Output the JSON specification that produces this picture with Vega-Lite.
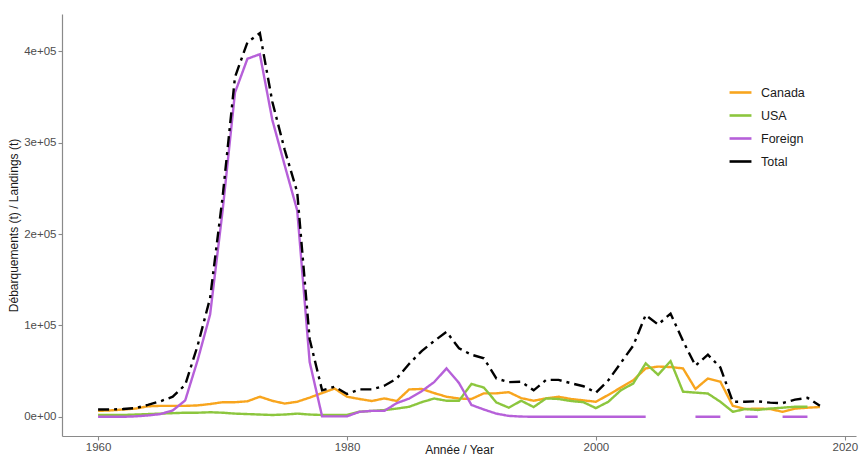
{
  "$schema": "https://vega.github.io/schema/vega-lite/v6.json",
  "width": 794,
  "height": 422,
  "autosize": {"type": "none"},
  "padding": {"left": 62, "top": 14, "right": 4, "bottom": 21},
  "background": "white",
  "config": {
    "view": {"stroke": null},
    "font": "Liberation Sans",
    "axis": {"grid": false, "domainColor": "#8a8a8a", "domainWidth": 1.2, "tickColor": "#8a8a8a", "tickSize": 4, "tickWidth": 1.1, "labelColor": "#4d4d4d", "labelFontSize": 11.5, "titleFontSize": 12, "titleFontWeight": "normal", "titleColor": "#1a1a1a", "labelFont": "Liberation Sans", "titleFont": "Liberation Sans"}
  },
  "data": {"values": [
    {"year":1960,"series":"Canada","value":6500},{"year":1961,"series":"Canada","value":7000},{"year":1962,"series":"Canada","value":8000},{"year":1963,"series":"Canada","value":9000},{"year":1964,"series":"Canada","value":11500},{"year":1965,"series":"Canada","value":12000},{"year":1966,"series":"Canada","value":12000},{"year":1967,"series":"Canada","value":12000},{"year":1968,"series":"Canada","value":12500},{"year":1969,"series":"Canada","value":14000},{"year":1970,"series":"Canada","value":16000},{"year":1971,"series":"Canada","value":16000},{"year":1972,"series":"Canada","value":17000},{"year":1973,"series":"Canada","value":22000},{"year":1974,"series":"Canada","value":17500},{"year":1975,"series":"Canada","value":14500},{"year":1976,"series":"Canada","value":16500},{"year":1977,"series":"Canada","value":21000},{"year":1978,"series":"Canada","value":26000},{"year":1979,"series":"Canada","value":31000},{"year":1980,"series":"Canada","value":22000},{"year":1981,"series":"Canada","value":19500},{"year":1982,"series":"Canada","value":17300},{"year":1983,"series":"Canada","value":20200},{"year":1984,"series":"Canada","value":17300},{"year":1985,"series":"Canada","value":30000},{"year":1986,"series":"Canada","value":30500},{"year":1987,"series":"Canada","value":26000},{"year":1988,"series":"Canada","value":22000},{"year":1989,"series":"Canada","value":20000},{"year":1990,"series":"Canada","value":19500},{"year":1991,"series":"Canada","value":25700},{"year":1992,"series":"Canada","value":25700},{"year":1993,"series":"Canada","value":27000},{"year":1994,"series":"Canada","value":20500},{"year":1995,"series":"Canada","value":17600},{"year":1996,"series":"Canada","value":20200},{"year":1997,"series":"Canada","value":22000},{"year":1998,"series":"Canada","value":19500},{"year":1999,"series":"Canada","value":18000},{"year":2000,"series":"Canada","value":16500},{"year":2001,"series":"Canada","value":24000},{"year":2002,"series":"Canada","value":32000},{"year":2003,"series":"Canada","value":40000},{"year":2004,"series":"Canada","value":53000},{"year":2005,"series":"Canada","value":55000},{"year":2006,"series":"Canada","value":54500},{"year":2007,"series":"Canada","value":53000},{"year":2008,"series":"Canada","value":30500},{"year":2009,"series":"Canada","value":42000},{"year":2010,"series":"Canada","value":38500},{"year":2011,"series":"Canada","value":12000},{"year":2012,"series":"Canada","value":8500},{"year":2013,"series":"Canada","value":9000},{"year":2014,"series":"Canada","value":8500},{"year":2015,"series":"Canada","value":5500},{"year":2016,"series":"Canada","value":9000},{"year":2017,"series":"Canada","value":10000},{"year":2018,"series":"Canada","value":10700},
    {"year":1960,"series":"USA","value":2000},{"year":1961,"series":"USA","value":2000},{"year":1962,"series":"USA","value":2000},{"year":1963,"series":"USA","value":2500},{"year":1964,"series":"USA","value":3000},{"year":1965,"series":"USA","value":3500},{"year":1966,"series":"USA","value":4000},{"year":1967,"series":"USA","value":4500},{"year":1968,"series":"USA","value":4500},{"year":1969,"series":"USA","value":5000},{"year":1970,"series":"USA","value":4500},{"year":1971,"series":"USA","value":3500},{"year":1972,"series":"USA","value":3000},{"year":1973,"series":"USA","value":2500},{"year":1974,"series":"USA","value":2000},{"year":1975,"series":"USA","value":2500},{"year":1976,"series":"USA","value":3500},{"year":1977,"series":"USA","value":2500},{"year":1978,"series":"USA","value":2000},{"year":1979,"series":"USA","value":2000},{"year":1980,"series":"USA","value":2000},{"year":1981,"series":"USA","value":5500},{"year":1982,"series":"USA","value":6500},{"year":1983,"series":"USA","value":7400},{"year":1984,"series":"USA","value":9000},{"year":1985,"series":"USA","value":11000},{"year":1986,"series":"USA","value":16000},{"year":1987,"series":"USA","value":20000},{"year":1988,"series":"USA","value":17600},{"year":1989,"series":"USA","value":17600},{"year":1990,"series":"USA","value":36000},{"year":1991,"series":"USA","value":32000},{"year":1992,"series":"USA","value":15800},{"year":1993,"series":"USA","value":10000},{"year":1994,"series":"USA","value":17600},{"year":1995,"series":"USA","value":10700},{"year":1996,"series":"USA","value":20200},{"year":1997,"series":"USA","value":19500},{"year":1998,"series":"USA","value":17300},{"year":1999,"series":"USA","value":16000},{"year":2000,"series":"USA","value":9500},{"year":2001,"series":"USA","value":16500},{"year":2002,"series":"USA","value":29000},{"year":2003,"series":"USA","value":36500},{"year":2004,"series":"USA","value":58500},{"year":2005,"series":"USA","value":46000},{"year":2006,"series":"USA","value":61000},{"year":2007,"series":"USA","value":27500},{"year":2008,"series":"USA","value":26500},{"year":2009,"series":"USA","value":25500},{"year":2010,"series":"USA","value":16500},{"year":2011,"series":"USA","value":5500},{"year":2012,"series":"USA","value":8500},{"year":2013,"series":"USA","value":7500},{"year":2014,"series":"USA","value":9000},{"year":2015,"series":"USA","value":10000},{"year":2016,"series":"USA","value":11000},{"year":2017,"series":"USA","value":11000},
    {"year":1960,"series":"Foreign","value":0},{"year":1961,"series":"Foreign","value":0},{"year":1962,"series":"Foreign","value":0},{"year":1963,"series":"Foreign","value":500},{"year":1964,"series":"Foreign","value":1500},{"year":1965,"series":"Foreign","value":3000},{"year":1966,"series":"Foreign","value":7000},{"year":1967,"series":"Foreign","value":18000},{"year":1968,"series":"Foreign","value":62000},{"year":1969,"series":"Foreign","value":112000},{"year":1970,"series":"Foreign","value":225000},{"year":1971,"series":"Foreign","value":355000},{"year":1972,"series":"Foreign","value":392000},{"year":1973,"series":"Foreign","value":397000},{"year":1974,"series":"Foreign","value":325000},{"year":1975,"series":"Foreign","value":275000},{"year":1976,"series":"Foreign","value":226000},{"year":1977,"series":"Foreign","value":60000},{"year":1978,"series":"Foreign","value":500},{"year":1979,"series":"Foreign","value":500},{"year":1980,"series":"Foreign","value":500},{"year":1981,"series":"Foreign","value":5500},{"year":1982,"series":"Foreign","value":6500},{"year":1983,"series":"Foreign","value":6500},{"year":1984,"series":"Foreign","value":15000},{"year":1985,"series":"Foreign","value":20000},{"year":1986,"series":"Foreign","value":28000},{"year":1987,"series":"Foreign","value":38000},{"year":1988,"series":"Foreign","value":53000},{"year":1989,"series":"Foreign","value":37000},{"year":1990,"series":"Foreign","value":13000},{"year":1991,"series":"Foreign","value":8000},{"year":1992,"series":"Foreign","value":3500},{"year":1993,"series":"Foreign","value":1000},{"year":1994,"series":"Foreign","value":300},{"year":1995,"series":"Foreign","value":0},{"year":1996,"series":"Foreign","value":0},{"year":1997,"series":"Foreign","value":0},{"year":1998,"series":"Foreign","value":0},{"year":1999,"series":"Foreign","value":0},{"year":2000,"series":"Foreign","value":0},{"year":2001,"series":"Foreign","value":0},{"year":2002,"series":"Foreign","value":0},{"year":2003,"series":"Foreign","value":0},{"year":2004,"series":"Foreign","value":0},{"year":2005,"series":"Foreign","value":null},{"year":2006,"series":"Foreign","value":null},{"year":2007,"series":"Foreign","value":null},{"year":2008,"series":"Foreign","value":0},{"year":2009,"series":"Foreign","value":0},{"year":2010,"series":"Foreign","value":0},{"year":2011,"series":"Foreign","value":null},{"year":2012,"series":"Foreign","value":0},{"year":2013,"series":"Foreign","value":0},{"year":2014,"series":"Foreign","value":null},{"year":2015,"series":"Foreign","value":0},{"year":2016,"series":"Foreign","value":0},{"year":2017,"series":"Foreign","value":0},
    {"year":1960,"series":"Total","value":8000},{"year":1961,"series":"Total","value":8000},{"year":1962,"series":"Total","value":8500},{"year":1963,"series":"Total","value":9500},{"year":1964,"series":"Total","value":13000},{"year":1965,"series":"Total","value":17000},{"year":1966,"series":"Total","value":22000},{"year":1967,"series":"Total","value":35000},{"year":1968,"series":"Total","value":78000},{"year":1969,"series":"Total","value":130000},{"year":1970,"series":"Total","value":240000},{"year":1971,"series":"Total","value":372000},{"year":1972,"series":"Total","value":410000},{"year":1973,"series":"Total","value":420000},{"year":1974,"series":"Total","value":345000},{"year":1975,"series":"Total","value":292000},{"year":1976,"series":"Total","value":246000},{"year":1977,"series":"Total","value":85000},{"year":1978,"series":"Total","value":29000},{"year":1979,"series":"Total","value":33000},{"year":1980,"series":"Total","value":25000},{"year":1981,"series":"Total","value":30000},{"year":1982,"series":"Total","value":30000},{"year":1983,"series":"Total","value":34000},{"year":1984,"series":"Total","value":42000},{"year":1985,"series":"Total","value":58000},{"year":1986,"series":"Total","value":72000},{"year":1987,"series":"Total","value":83000},{"year":1988,"series":"Total","value":93000},{"year":1989,"series":"Total","value":75000},{"year":1990,"series":"Total","value":68000},{"year":1991,"series":"Total","value":64000},{"year":1992,"series":"Total","value":42000},{"year":1993,"series":"Total","value":38000},{"year":1994,"series":"Total","value":38500},{"year":1995,"series":"Total","value":29000},{"year":1996,"series":"Total","value":40400},{"year":1997,"series":"Total","value":40400},{"year":1998,"series":"Total","value":36800},{"year":1999,"series":"Total","value":33500},{"year":2000,"series":"Total","value":26500},{"year":2001,"series":"Total","value":40000},{"year":2002,"series":"Total","value":59000},{"year":2003,"series":"Total","value":78000},{"year":2004,"series":"Total","value":111500},{"year":2005,"series":"Total","value":101000},{"year":2006,"series":"Total","value":113000},{"year":2007,"series":"Total","value":83000},{"year":2008,"series":"Total","value":56000},{"year":2009,"series":"Total","value":68000},{"year":2010,"series":"Total","value":54000},{"year":2011,"series":"Total","value":16500},{"year":2012,"series":"Total","value":16500},{"year":2013,"series":"Total","value":17000},{"year":2014,"series":"Total","value":15500},{"year":2015,"series":"Total","value":15000},{"year":2016,"series":"Total","value":18800},{"year":2017,"series":"Total","value":20800},{"year":2018,"series":"Total","value":12000}
  ]},
  "mark": {"type": "line", "strokeWidth": 2.4, "invalid": "break-paths-show-domains", "clip": true},
  "encoding": {
    "x": {"field": "year", "type": "quantitative", "scale": {"domain": [1957.1, 2020.9], "nice": false, "zero": false},
      "axis": {"values": [1960, 1980, 2000, 2020], "format": "d", "title": "Année / Year", "labelPadding": 1, "titleY": 17, "titleBaseline": "alphabetic"}},
    "y": {"field": "value", "type": "quantitative", "scale": {"domain": [-21000, 441000], "nice": false, "zero": false},
      "axis": {"values": [0, 100000, 200000, 300000, 400000], "labelExpr": "datum.value == 0 ? '0e+00' : (datum.value / 100000) + 'e+05'", "title": "Débarquements (t) / Landings (t)", "labelPadding": 2, "titlePadding": 3}},
    "color": {"field": "series", "type": "nominal",
      "scale": {"domain": ["Canada", "USA", "Foreign", "Total"], "range": ["#F8A51E", "#8CC63E", "#B660D9", "#000000"]},
      "legend": {"title": null, "orient": "none", "legendX": 666, "legendY": 66, "symbolType": "stroke", "symbolSize": 480, "symbolStrokeWidth": 2.6, "labelFontSize": 12.5, "labelColor": "#1a1a1a", "labelOffset": 8, "rowPadding": 4, "labelFont": "Liberation Sans"}},
    "order": {"field": "year", "type": "quantitative"},
    "strokeDash": {"condition": {"test": "datum.series === 'Total'", "value": [11, 5, 3, 5]}, "value": [1, 0]},
    "strokeWidth": {"condition": {"test": "datum.series === 'Total'", "value": 2.9}, "value": 2.4}
  }
}
